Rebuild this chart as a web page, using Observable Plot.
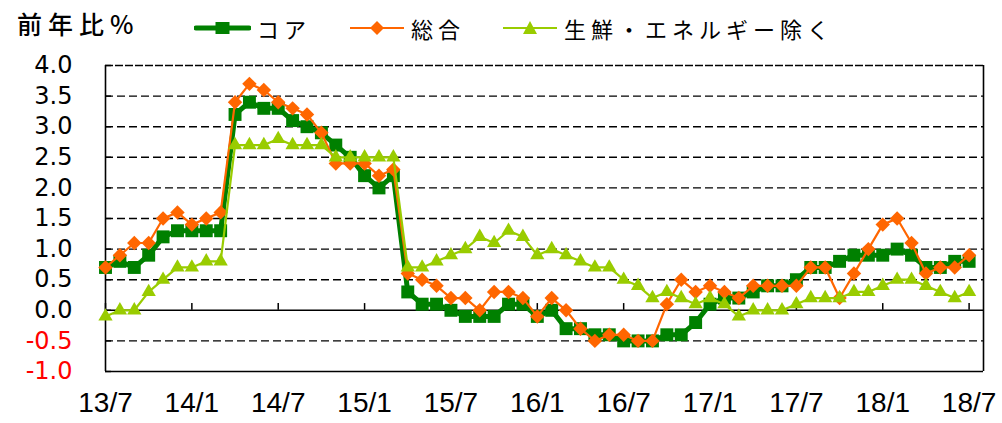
<!DOCTYPE html>
<html><head><meta charset="utf-8">
<script src="https://cdn.jsdelivr.net/npm/d3@7"></script>
<script src="https://cdn.jsdelivr.net/npm/@observablehq/plot@0.6"></script>
<style>
body{margin:0;background:#fff;}
#wrap{position:relative;width:1002px;height:423px;overflow:hidden;font-family:"Noto Sans CJK JP",sans-serif;}
#hdr{position:relative;height:50px;}
.t{position:absolute;font-size:25px;letter-spacing:6px;font-weight:500;color:#000;line-height:1;white-space:nowrap;}
.leg{position:absolute;top:16px;display:flex;align-items:center;font-size:22px;letter-spacing:5px;line-height:1;white-space:nowrap;}
.leg svg{margin-right:6px;}
</style></head><body>
<div id="wrap">
<div id="hdr">
  <span class="t" style="left:17px;top:11px;">前年比%</span>
  <div class="leg" style="left:194px;">
    <svg width="57" height="24"><line x1="2" y1="12" x2="55" y2="12" stroke="#008000" stroke-width="5" stroke-linecap="round"/><rect x="21.5" y="6" width="14" height="12" fill="#008000"/></svg><span>コア</span>
  </div>
  <div class="leg" style="left:349px;">
    <svg width="56" height="24"><line x1="1" y1="12" x2="55" y2="12" stroke="#FF6600" stroke-width="2"/><path d="M28,5L35,12L28,19L21,12Z" fill="#FF6600"/></svg><span>総合</span>
  </div>
  <div class="leg" style="left:502px;">
    <svg width="56" height="24"><line x1="1" y1="12" x2="55" y2="12" stroke="#99CC00" stroke-width="2"/><path d="M28,5L35,18L21,18Z" fill="#99CC00"/></svg><span>生鮮・エネルギー除く</span>
  </div>
</div>
<div id="chart"></div>
</div>
<script>
const tickLabels = ["13/7","14/1","14/7","15/1","15/7","16/1","16/7","17/1","17/7","18/1","18/7"];
const core = [0.7,0.8,0.7,0.9,1.2,1.3,
  1.3,1.3,1.3,3.2,3.4,3.3,3.3,3.1,3.0,2.9,2.7,2.5,
  2.2,2.0,2.2,0.3,0.1,0.1,0.0,-0.1,-0.1,-0.1,0.1,0.1,
  -0.1,0.0,-0.3,-0.3,-0.4,-0.4,-0.5,-0.5,-0.5,-0.4,-0.4,-0.2,
  0.1,0.2,0.2,0.3,0.4,0.4,0.5,0.7,0.7,0.8,0.9,0.9,
  0.9,1.0,0.9,0.7,0.7,0.8,0.8];
const headline = [0.7,0.9,1.1,1.1,1.5,1.6,
  1.4,1.5,1.6,3.4,3.7,3.6,3.4,3.3,3.2,2.9,2.4,2.4,
  2.4,2.2,2.3,0.6,0.5,0.4,0.2,0.2,0.0,0.3,0.3,0.2,
  -0.1,0.2,0.0,-0.3,-0.5,-0.4,-0.4,-0.5,-0.5,0.1,0.5,0.3,
  0.4,0.3,0.2,0.4,0.4,0.4,0.4,0.7,0.7,0.2,0.6,1.0,
  1.4,1.5,1.1,0.6,0.7,0.7,0.9];
const coreCore = [-0.1,0.0,0.0,0.3,0.5,0.7,
  0.7,0.8,0.8,2.7,2.7,2.7,2.8,2.7,2.7,2.7,2.5,2.5,
  2.5,2.5,2.5,0.7,0.7,0.8,0.9,1.0,1.2,1.1,1.3,1.2,
  0.9,1.0,0.9,0.8,0.7,0.7,0.5,0.4,0.2,0.3,0.2,0.1,
  0.2,0.1,-0.1,0.0,0.0,0.0,0.1,0.2,0.2,0.2,0.3,0.3,
  0.4,0.5,0.5,0.4,0.3,0.2,0.3];
const yTicks = [-1.0,-0.5,0.0,0.5,1.0,1.5,2.0,2.5,3.0,3.5,4.0];

const rows = arr => arr.map((v, i) => ({i, v}));
const gridTicks = yTicks.filter(d => d !== 0 && d !== -1 && d !== 4);
const xTickPos = tickLabels.map((_, k) => k * 6);

const chart = Plot.plot({
  width: 1002, height: 373,
  marginTop: 15, marginBottom: 52, marginLeft: 105, marginRight: 19,
  x: {domain: [0, 61], axis: null},
  y: {domain: [-1, 4], axis: null},
  style: {background: "#fff", overflow: "visible"},
  marks: [
    Plot.ruleY(gridTicks, {y: d => d, stroke: "#000", strokeWidth: 1.4, strokeDasharray: "8,4"}),
    Plot.ruleY([4], {y: d => d, stroke: "#000", strokeWidth: 1.6, strokeDasharray: "8,2"}),
    Plot.ruleY([0], {y: d => d, stroke: "#000", strokeWidth: 1.5}),
    Plot.ruleY(yTicks, {y: d => d, x1: 0, x2: 0.42, stroke: "#000", strokeWidth: 1.4}),
    Plot.ruleX(xTickPos, {x: d => d, y1: 0, y2: 0.11, stroke: "#000", strokeWidth: 1.5}),
    Plot.ruleX([0, 61], {x: d => d, stroke: "#000", strokeWidth: 1.6}),
    Plot.ruleY([-1], {y: d => d, stroke: "#000", strokeWidth: 1.6}),
    Plot.text(yTicks, {y: d => d, text: d => d.toFixed(1), frameAnchor: "left", dx: -33, textAnchor: "end",
      fill: d => d < 0 ? "#FF0000" : "#000000", fontSize: 24, fontFamily: "DejaVu Sans, sans-serif"}),
    Plot.text(xTickPos, {x: d => d, text: (d, k) => tickLabels[k], frameAnchor: "bottom", dy: 32, lineAnchor: "middle",
      fill: "#000", fontSize: 28, fontFamily: "Liberation Sans, Arial, sans-serif"}),
    Plot.line(rows(core), {x: "i", y: "v", stroke: "#008000", strokeWidth: 5}),
    Plot.dot(rows(core), {x: "i", y: "v", symbol: "square", r: 7.3, fill: "#008000"}),
    Plot.line(rows(headline), {x: "i", y: "v", stroke: "#FF6600", strokeWidth: 2.2}),
    Plot.dot(rows(headline), {x: "i", y: "v", symbol: "diamond2", r: 6.5, fill: "#FF6600", stroke: "none"}),
    Plot.line(rows(coreCore), {x: "i", y: "v", stroke: "#99CC00", strokeWidth: 2.2}),
    Plot.dot(rows(coreCore), {x: "i", y: "v", symbol: "triangle", r: 5.3, fill: "#99CC00"})
  ]
});
document.getElementById("chart").appendChild(chart);
</script>
</body></html>
